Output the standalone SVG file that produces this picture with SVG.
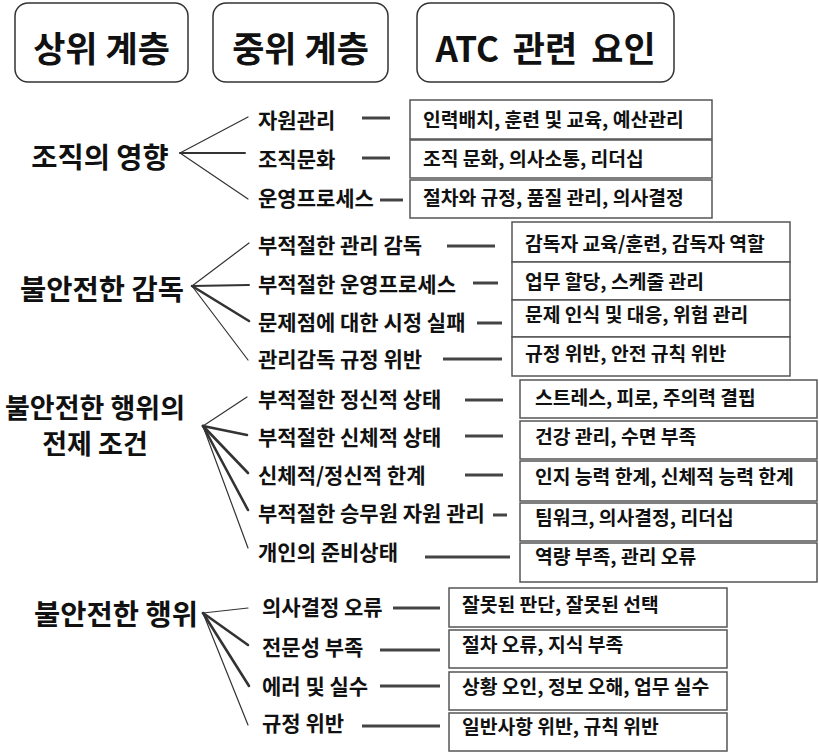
<svg xmlns="http://www.w3.org/2000/svg" width="819" height="753" viewBox="0 0 819 753">
<style>
text{font-family:"Noto Sans CJK KR","Noto Sans",sans-serif;font-weight:700;fill:#111}
.hdr rect{fill:#fff;stroke:#333;stroke-width:1.5}
.hdr text{font-size:35px;text-anchor:middle}
.l1 text{font-size:28.5px;text-anchor:middle}
.l1 .two{font-size:27px}
.l2 text{font-size:21px}
.bx rect{fill:#fff;stroke:#555;stroke-width:1.5}
.bx text{font-size:19.3px}
.fan line{stroke:#333;stroke-linecap:round}
.thin{stroke-width:1.2}
.mid{stroke-width:2}
.thick{stroke-width:2.6}
.dash line{stroke:#444;stroke-width:3}
</style>
<rect width="819" height="753" fill="#fff"/>

<!-- headers -->
<g id="hdr-upper" class="hdr"><rect x="15" y="3" width="173" height="79" rx="13"/><text x="101.5" y="62">상위 계층</text></g>
<g id="hdr-middle" class="hdr"><rect x="213" y="3" width="175" height="79" rx="13"/><text x="300.5" y="62">중위 계층</text></g>
<g id="hdr-atc" class="hdr"><rect x="417" y="3" width="257" height="79" rx="13"/><text x="545.5" y="62" word-spacing="6">ATC 관련 요인</text></g>

<!-- level 1 -->
<g id="u1" class="l1"><text x="100" y="168">조직의 영향</text></g>
<g id="u2" class="l1"><text x="102" y="300">불안전한 감독</text></g>
<g id="u3" class="l1"><text class="two" x="95" y="418">불안전한 행위의</text><text class="two" x="95" y="454">전제 조건</text></g>
<g id="u4" class="l1"><text x="116" y="625">불안전한 행위</text></g>

<!-- level 2 -->
<g id="m1a" class="l2"><text x="258" y="128">자원관리</text></g>
<g id="m1b" class="l2"><text x="258" y="167">조직문화</text></g>
<g id="m1c" class="l2"><text x="258" y="206">운영프로세스</text></g>
<g id="m2a" class="l2"><text x="258" y="253">부적절한 관리 감독</text></g>
<g id="m2b" class="l2"><text x="258" y="292">부적절한 운영프로세스</text></g>
<g id="m2c" class="l2"><text x="258" y="330">문제점에 대한 시정 실패</text></g>
<g id="m2d" class="l2"><text x="258" y="367">관리감독 규정 위반</text></g>
<g id="m3a" class="l2"><text x="258" y="407">부적절한 정신적 상태</text></g>
<g id="m3b" class="l2"><text x="258" y="445">부적절한 신체적 상태</text></g>
<g id="m3c" class="l2"><text x="258" y="483">신체적/정신적 한계</text></g>
<g id="m3d" class="l2"><text x="258" y="521">부적절한 승무원 자원 관리</text></g>
<g id="m3e" class="l2"><text x="258" y="560">개인의 준비상태</text></g>
<g id="m4a" class="l2"><text x="262" y="615">의사결정 오류</text></g>
<g id="m4b" class="l2"><text x="262" y="655">전문성 부족</text></g>
<g id="m4c" class="l2"><text x="262" y="694">에러 및 실수</text></g>
<g id="m4d" class="l2"><text x="262" y="731">규정 위반</text></g>

<!-- ATC factor boxes -->
<g id="a1a" class="bx"><rect x="410" y="100" width="302" height="39"/><text x="423" y="127">인력배치, 훈련 및 교육, 예산관리</text></g>
<g id="a1b" class="bx"><rect x="410" y="140" width="302" height="38"/><text x="423" y="166">조직 문화, 의사소통, 리더십</text></g>
<g id="a1c" class="bx"><rect x="410" y="180" width="302" height="38"/><text x="423" y="205">절차와 규정, 품질 관리, 의사결정</text></g>

<g id="a2a" class="bx"><rect x="512" y="222" width="278" height="40"/><text x="525" y="251">감독자 교육/훈련, 감독자 역할</text></g>
<g id="a2b" class="bx"><rect x="512" y="262" width="278" height="38"/><text x="525" y="289">업무 할당, 스케줄 관리</text></g>
<g id="a2c" class="bx"><rect x="512" y="300" width="278" height="37"/><text x="525" y="322">문제 인식 및 대응, 위험 관리</text></g>
<g id="a2d" class="bx"><rect x="512" y="337" width="278" height="39"/><text x="525" y="361">규정 위반, 안전 규칙 위반</text></g>

<g id="a3a" class="bx"><rect x="520" y="380" width="297" height="38"/><text x="535" y="405">스트레스, 피로, 주의력 결핍</text></g>
<g id="a3b" class="bx"><rect x="520" y="421" width="297" height="38"/><text x="535" y="444">건강 관리, 수면 부족</text></g>
<g id="a3c" class="bx"><rect x="520" y="461" width="297" height="40"/><text x="535" y="484">인지 능력 한계, 신체적 능력 한계</text></g>
<g id="a3d" class="bx"><rect x="520" y="503" width="297" height="38"/><text x="535" y="525">팀워크, 의사결정, 리더십</text></g>
<g id="a3e" class="bx"><rect x="520" y="543" width="297" height="39"/><text x="535" y="564">역량 부족, 관리 오류</text></g>

<g id="a4a" class="bx"><rect x="449" y="588" width="278" height="39"/><text x="462" y="612">잘못된 판단, 잘못된 선택</text></g>
<g id="a4b" class="bx"><rect x="449" y="630" width="278" height="38"/><text x="462" y="652">절차 오류, 지식 부족</text></g>
<g id="a4c" class="bx"><rect x="449" y="672" width="278" height="38"/><text x="462" y="694">상황 오인, 정보 오해, 업무 실수</text></g>
<g id="a4d" class="bx"><rect x="449" y="713" width="278" height="38"/><text x="462" y="734">일반사항 위반, 규칙 위반</text></g>

<!-- connectors -->
<g id="connectors">
  <g class="fan">
    <line class="thin" x1="180" y1="153" x2="248" y2="117"/>
    <line class="mid" x1="180" y1="153" x2="245" y2="153"/>
    <line class="thin" x1="180" y1="153" x2="248" y2="199"/>

    <line class="thin" x1="192" y1="286" x2="249" y2="243"/>
    <line class="mid" x1="192" y1="286" x2="249" y2="285"/>
    <line class="thick" x1="192" y1="286" x2="249" y2="321"/>
    <line class="thin" x1="192" y1="286" x2="248" y2="360"/>

    <line class="thin" x1="203" y1="426" x2="247" y2="397"/>
    <line class="thick" x1="203" y1="426" x2="247" y2="435"/>
    <line class="thick" x1="203" y1="426" x2="248" y2="473"/>
    <line class="thick" x1="203" y1="426" x2="248" y2="510"/>
    <line class="thin" x1="203" y1="426" x2="248" y2="548"/>

    <line class="thin" x1="203" y1="613" x2="248" y2="608"/>
    <line class="thick" x1="203" y1="613" x2="248" y2="645"/>
    <line class="thick" x1="203" y1="613" x2="249" y2="686"/>
    <line class="thin" x1="203" y1="613" x2="248" y2="725"/>
  </g>
  <g class="dash">
    <line x1="362" y1="118" x2="390" y2="118"/>
    <line x1="362" y1="158" x2="390" y2="158"/>
    <line x1="380" y1="200" x2="403" y2="200"/>

    <line x1="447" y1="246" x2="495" y2="246"/>
    <line x1="473" y1="283" x2="498" y2="283"/>
    <line x1="477" y1="323" x2="502" y2="323"/>
    <line x1="443" y1="359" x2="502" y2="359"/>

    <line x1="465" y1="400" x2="503" y2="400"/>
    <line x1="465" y1="436" x2="503" y2="436"/>
    <line x1="465" y1="475" x2="503" y2="475"/>
    <line x1="493" y1="515" x2="507" y2="515"/>
    <line x1="425" y1="557" x2="510" y2="557"/>

    <line x1="393" y1="608" x2="440" y2="608"/>
    <line x1="380" y1="650" x2="440" y2="650"/>
    <line x1="380" y1="686" x2="440" y2="686"/>
    <line x1="362" y1="726" x2="440" y2="726"/>
  </g>
</g>
</svg>
